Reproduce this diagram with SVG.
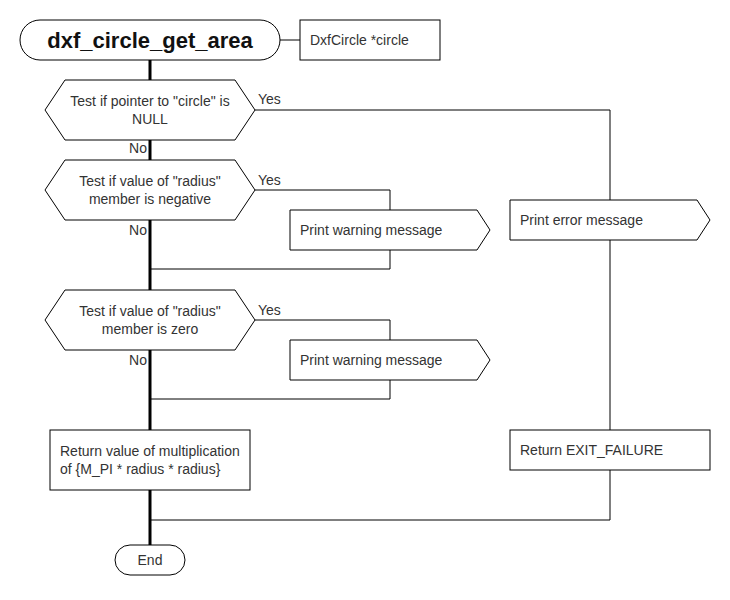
<svg xmlns="http://www.w3.org/2000/svg" width="730" height="600" viewBox="0 0 730 600">
<style>
.bg{fill:#fff}
.shape{fill:#fff;stroke:#000;stroke-width:1}
.t{font-family:"Liberation Sans",Arial,sans-serif;font-size:14px;fill:#333}
.c{text-anchor:middle}
.r{text-anchor:end}
.title{font-family:"Liberation Sans",Arial,sans-serif;font-size:22px;font-weight:bold;fill:#111;text-anchor:middle}
.thin{fill:none;stroke:#000;stroke-width:1}
.thick{fill:none;stroke:#000;stroke-width:3}
</style>
<rect class="bg" x="0" y="0" width="730" height="600"/>
<g id="connectors">
<path class="thick" d="M150,60 V80 M150,140 V160 M150,220 V290 M150,350 V430 M150,490 V545"/>
<path class="thin" d="M280,40 H300"/>
<path class="thin" d="M255,110 H610 V200 M610,240 V430 M610,470 V520 H150"/>
<path class="thin" d="M255,190 H390 V210 M390,250 V269 H150"/>
<path class="thin" d="M255,320 H390 V340 M390,380 V399 H150"/>
<text class="t" x="258" y="104">Yes</text>
<text class="t r" x="147" y="153">No</text>
<text class="t" x="258" y="185">Yes</text>
<text class="t r" x="147" y="235">No</text>
<text class="t" x="258" y="315">Yes</text>
<text class="t r" x="147" y="365">No</text>
</g>
<g id="start">
<rect class="shape" x="20" y="20" width="260" height="40" rx="20" ry="20"/>
<text class="title" x="150" y="48">dxf_circle_get_area</text>
</g>
<g id="param">
<rect class="shape" x="300" y="20" width="140" height="40"/>
<text class="t" x="310" y="45">DxfCircle *circle</text>
</g>
<g id="dec1">
<polygon class="shape" points="45,110 65,80 235,80 255,110 235,140 65,140"/>
<text class="t c" x="150" y="106">Test if pointer to "circle" is</text>
<text class="t c" x="150" y="124">NULL</text>
</g>
<g id="dec2">
<polygon class="shape" points="45,190 65,160 235,160 255,190 235,220 65,220"/>
<text class="t c" x="150" y="186">Test if value of "radius"</text>
<text class="t c" x="150" y="204">member is negative</text>
</g>
<g id="warn1">
<polygon class="shape" points="290,210 477,210 490,230 477,250 290,250"/>
<text class="t" x="300" y="235">Print warning message</text>
</g>
<g id="dec3">
<polygon class="shape" points="45,320 65,290 235,290 255,320 235,350 65,350"/>
<text class="t c" x="150" y="316">Test if value of "radius"</text>
<text class="t c" x="150" y="334">member is zero</text>
</g>
<g id="warn2">
<polygon class="shape" points="290,340 477,340 490,360 477,380 290,380"/>
<text class="t" x="300" y="365">Print warning message</text>
</g>
<g id="err">
<polygon class="shape" points="510,200 697,200 710,220 697,240 510,240"/>
<text class="t" x="520" y="225">Print error message</text>
</g>
<g id="retval">
<rect class="shape" x="50" y="430" width="200" height="60"/>
<text class="t" x="60" y="456">Return value of multiplication</text>
<text class="t" x="60" y="474">of {M_PI * radius * radius}</text>
</g>
<g id="retfail">
<rect class="shape" x="510" y="430" width="200" height="40"/>
<text class="t" x="520" y="455">Return EXIT_FAILURE</text>
</g>
<g id="end">
<rect class="shape" x="115" y="545" width="70" height="30" rx="15" ry="15"/>
<text class="t c" x="150" y="565">End</text>
</g>
</svg>
